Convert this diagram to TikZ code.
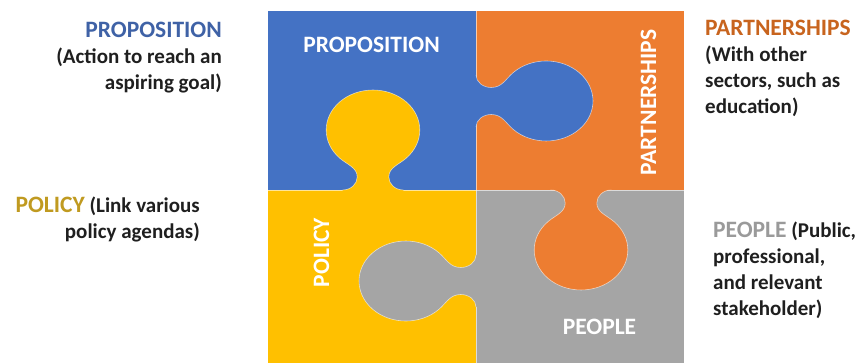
\documentclass[tikz,border=0pt]{standalone}
\usepackage{fontspec}
\setmainfont{Carlito}

\definecolor{puzblue}{HTML}{4472C4}
\definecolor{puzorange}{HTML}{ED7D31}
\definecolor{puzyellow}{HTML}{FFC000}
\definecolor{puzgray}{HTML}{A5A5A5}
\definecolor{propblue}{HTML}{3F62A6}
\definecolor{partorange}{HTML}{C8641E}
\definecolor{polgold}{HTML}{C09A20}
\definecolor{peopgray}{HTML}{9A9A9A}
\definecolor{bodytext}{HTML}{1F1F1F}

% outline of one puzzle tab, base on the x axis, pointing up
\newcommand{\knobedge}{(-26,0) to[out=0,in=-90] (-13.5,13) to[out=90,in=-45] (-28.3,31.7)
  arc[start angle=225,end angle=-45,radius=40] to[out=-135,in=90] (13.5,13) to[out=-90,in=180] (26,0)}
% coloured heading word in the side texts
\newcommand{\headword}[2]{{\fontsize{23.5}{26}\selectfont\textcolor{#1}{#2}}}

\begin{document}
\begin{tikzpicture}[x=1pt,y=1pt,
  sidetext/.style={font=\fontsize{21}{26}\selectfont\bfseries, text=bodytext, inner sep=0pt},
  piecetext/.style={font=\fontsize{23.5}{26}\selectfont\bfseries, text=white, inner sep=0pt},
  seam/.style={white, line width=0.6pt, opacity=0.6}]
\useasboundingbox (0,0) rectangle (861,363);

% the four pieces
\fill[puzblue] (268,173) rectangle (476,352);
\fill[puzorange] (476,173) rectangle (684,352);
\fill[puzyellow] (268,0) rectangle (476,173);
\fill[puzgray] (476,0) rectangle (684,173);
\draw[seam] (476,0) -- (476,352);
\draw[seam] (268,173) -- (684,173);

% tabs
\foreach \px/\py/\ang/\col in {373/173/0/puzyellow, 476/262/-90/puzblue,
    581/173/180/puzorange, 476/82/90/puzgray}{
  \fill[\col, shift={(\px,\py)}, xscale=1.17, rotate=\ang] \knobedge -- (26,-1) -- (-26,-1) -- cycle;
  \draw[seam, shift={(\px,\py)}, xscale=1.17, rotate=\ang] \knobedge;
}

\node[piecetext, anchor=base] (propname) at (371.5,310) {PROPOSITION};
\node[piecetext, rotate=90] (partname) at (648.5,260.5) {PARTNERSHIPS};
\node[piecetext, rotate=90] (polname) at (321.5,110.5) {POLICY};
\node[piecetext, anchor=base] (peopname) at (599.5,28) {PEOPLE};

\node[sidetext, align=right, anchor=north east] (proptext) at (222,341)
{\headword{propblue}{PROPOSITION}\\(Action to reach an\\aspiring goal)};
\node[sidetext, align=left, anchor=north west] (parttext) at (705,343)
{\headword{partorange}{PARTNERSHIPS}\\(With other\\sectors, such as\\education)};
\node[sidetext, align=right, anchor=north east] (poltext) at (200,166)
{\headword{polgold}{POLICY} (Link various\\policy agendas)};
\node[sidetext, align=left, anchor=north west] (peoptext) at (713,141)
{\headword{peopgray}{PEOPLE} (Public,\\professional,\\and relevant\\stakeholder)};
\end{tikzpicture}
\end{document}
